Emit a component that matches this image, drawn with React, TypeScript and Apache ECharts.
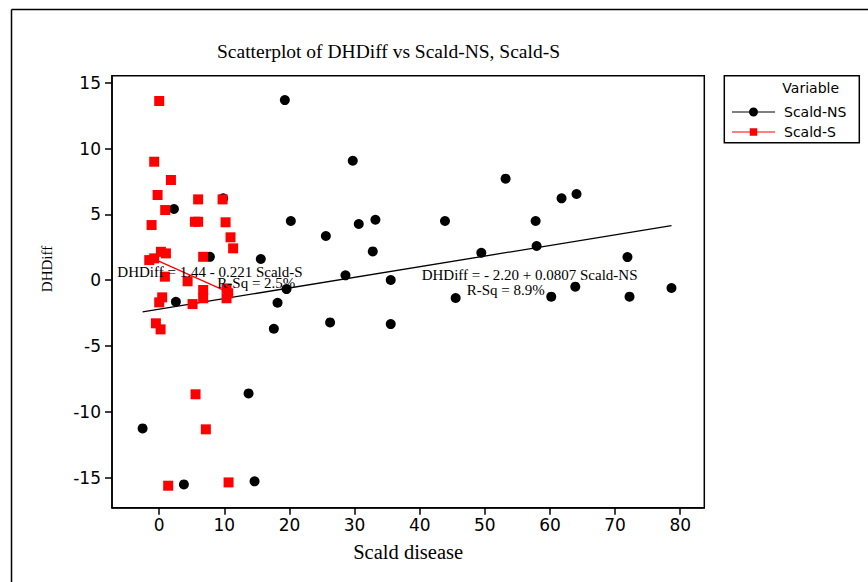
import React, { useEffect, useRef } from 'react';
import * as echarts from 'echarts';

const xTicks = [0, 10, 20, 30, 40, 50, 60, 70, 80];
const yTicks = [-15, -10, -5, 0, 5, 10, 15];

const scaldNS: number[][] = [
  [-2.55, -11.25], [2.26, 5.41], [2.56, -1.63], [7.78, 1.78], [9.82, 6.22],
  [19.29, 13.68], [20.21, 4.5], [15.6, 1.61], [19.55, -0.67], [18.17, -1.71],
  [17.6, -3.68], [13.72, -8.59], [3.79, -15.5], [14.64, -15.27], [29.72, 9.07],
  [25.59, 3.36], [30.64, 4.27], [33.2, 4.59], [32.79, 2.19], [43.88, 4.5],
  [49.46, 2.09], [28.6, 0.37], [35.55, 0.02], [26.24, -3.2], [35.55, -3.33],
  [45.52, -1.35], [53.19, 7.71], [61.78, 6.22], [64.08, 6.55], [57.8, 4.5],
  [57.95, 2.6], [71.9, 1.76], [63.89, -0.49], [60.2, -1.25], [72.22, -1.25],
  [78.66, -0.59],
];

const scaldS: number[][] = [
  [0.0, 13.61], [-0.77, 9.0], [1.8, 7.61], [-0.25, 6.47], [0.92, 5.33],
  [-1.17, 4.19], [5.98, 6.14], [9.73, 6.14], [5.48, 4.44], [5.98, 4.44],
  [10.19, 4.4], [10.95, 3.26], [11.35, 2.42], [6.75, 1.78], [-1.53, 1.53],
  [-0.77, 1.66], [0.26, 2.16], [1.03, 2.04], [0.87, 0.27], [4.36, -0.08],
  [6.75, -0.74], [6.75, -1.37], [10.34, -0.62], [10.59, -0.99], [10.34, -1.37],
  [0.46, -1.3], [0.0, -1.68], [5.12, -1.81], [-0.51, -3.27], [0.21, -3.73],
  [5.58, -8.66], [7.16, -11.32], [1.38, -15.6], [10.65, -15.35],
];

const fitNS = { intercept: -2.2, slope: 0.0807 };
const fitS = { intercept: 1.44, slope: -0.221 };

const titleText = 'Scatterplot of DHDiff vs Scald-NS, Scald-S';
const annotS = ['DHDiff = 1.44 - 0.221 Scald-S', 'R-Sq = 2.5%'];
const annotNS = ['DHDiff = - 2.20 + 0.0807 Scald-NS', 'R-Sq = 8.9%'];

function fitLine(pts: number[][], fit: { intercept: number; slope: number }) {
  const xs = pts.map((p) => p[0]);
  const lo = Math.min(...xs);
  const hi = Math.max(...xs);
  return [
    [lo, fit.intercept + fit.slope * lo],
    [hi, fit.intercept + fit.slope * hi],
  ];
}

const SERIF = 'Liberation Serif';
const SANS = 'DejaVu Sans';

const iconNS =
  'path://M0,4.5L17,4.5L17,5.5L0,5.5Z M26,4.5L43,4.5L43,5.5L26,5.5Z M17,5A4.5,4.5 0 1 1 26,5A4.5,4.5 0 1 1 17,5Z';
const iconS =
  'path://M0,4.5L18,4.5L18,5.5L0,5.5Z M25,4.5L43,4.5L43,5.5L25,5.5Z M17.75,1.25L25.25,1.25L25.25,8.75L17.75,8.75Z M0,0L0.01,0L0.01,0.01Z M0,9.99L0.01,9.99L0.01,10Z';

export default function App() {
  const ref = useRef<HTMLDivElement>(null);

  useEffect(() => {
    document.body.style.margin = '0';
    if (!ref.current) return;
    const chart = echarts.init(ref.current, undefined, { renderer: 'svg' });

    const axisCommon = {
      type: 'value' as const,
      splitLine: { show: false },
      axisLine: { onZero: false, lineStyle: { color: '#000', width: 1.5 } },
      axisTick: { length: 7, lineStyle: { color: '#000', width: 1.5 } },
    };

    chart.setOption({
      animation: false,
      backgroundColor: '#fff',
      title: {
        text: titleText,
        left: 212,
        top: 36.5,
        textStyle: { fontFamily: SERIF, fontSize: 19.5, fontWeight: 'normal', color: '#000' },
      },
      legend: {
        orient: 'vertical',
        left: 732,
        top: 105,
        padding: 0,
        itemWidth: 43,
        itemHeight: 10,
        itemGap: 6,
        selectedMode: false,
        data: [
          { name: 'Scald-NS', icon: iconNS },
          { name: 'Scald-S', icon: iconS },
        ],
        textStyle: { fontFamily: SANS, fontSize: 14, color: '#000', lineHeight: 14, padding: [0, 0, 0, 4] },
      },
      grid: {
        left: 112,
        right: 163.7,
        top: 75.7,
        bottom: 74.3,
        show: true,
        borderColor: '#000',
        borderWidth: 1.5,
        backgroundColor: 'transparent',
      },
      xAxis: {
        ...axisCommon,
        min: -7.25,
        max: 83.7,
        axisTick: { ...axisCommon.axisTick, customValues: xTicks },
        axisLabel: { customValues: xTicks, margin: 9, fontFamily: SANS, fontSize: 17, color: '#000' },
        name: 'Scald disease',
        nameLocation: 'middle',
        nameGap: 34,
        nameTextStyle: { fontFamily: SERIF, fontSize: 20.5, color: '#000' },
      },
      yAxis: {
        ...axisCommon,
        min: -17.27,
        max: 15.53,
        axisTick: { ...axisCommon.axisTick, customValues: yTicks },
        axisLabel: { customValues: yTicks, margin: 11, fontFamily: SANS, fontSize: 17, color: '#000' },
      },
      series: [
        {
          name: 'fit-NS',
          type: 'line',
          data: fitLine(scaldNS, fitNS),
          showSymbol: false,
          symbol: 'none',
          lineStyle: { color: '#000', width: 1.3 },
          z: 1,
          silent: true,
        },
        {
          name: 'fit-S',
          type: 'line',
          data: fitLine(scaldS, fitS),
          showSymbol: false,
          symbol: 'none',
          lineStyle: { color: '#ff0000', width: 1.3 },
          z: 1,
          silent: true,
        },
        {
          name: 'Scald-NS',
          type: 'scatter',
          data: scaldNS,
          symbol: 'circle',
          symbolSize: 10,
          itemStyle: { color: '#000', opacity: 1 },
          z: 2,
        },
        {
          name: 'Scald-S',
          type: 'scatter',
          data: scaldS,
          symbol: 'rect',
          symbolSize: 10,
          itemStyle: { color: '#ff0000', opacity: 1 },
          z: 3,
        },
      ],
      graphic: [
        { type: 'line', shape: { x1: 11.5, y1: 9.5, x2: 868, y2: 9.5 }, style: { stroke: '#000', lineWidth: 1.5 }, z: 10 },
        { type: 'line', shape: { x1: 11.5, y1: 9.5, x2: 11.5, y2: 582 }, style: { stroke: '#000', lineWidth: 1.5 }, z: 10 },
        { type: 'rect', shape: { x: 724.3, y: 75.7, width: 135, height: 67 }, style: { fill: 'none', stroke: '#000', lineWidth: 1.5 }, z: 10 },
        { type: 'text', x: 810.7, y: 88.3, style: { text: 'Variable', font: `14px "${SANS}"`, fill: '#000', textAlign: 'center', textVerticalAlign: 'middle' }, z: 10 },
        { type: 'text', x: 46.7, y: 269, rotation: Math.PI / 2, style: { text: 'DHDiff', font: `15px "${SERIF}"`, fill: '#000', textAlign: 'center', textVerticalAlign: 'middle' }, z: 10 },
        { type: 'text', x: 117.3, y: 271.7, style: { text: annotS[0], font: `15px "${SERIF}"`, fill: '#000', textAlign: 'left', textVerticalAlign: 'middle' }, z: 100 },
        { type: 'text', x: 217.3, y: 283.3, style: { text: annotS[1], font: `15px "${SERIF}"`, fill: '#000', textAlign: 'left', textVerticalAlign: 'middle' }, z: 100 },
        { type: 'text', x: 421.7, y: 275, style: { text: annotNS[0], font: `15px "${SERIF}"`, fill: '#000', textAlign: 'left', textVerticalAlign: 'middle' }, z: 100 },
        { type: 'text', x: 466.7, y: 290, style: { text: annotNS[1], font: `15px "${SERIF}"`, fill: '#000', textAlign: 'left', textVerticalAlign: 'middle' }, z: 100 },
      ],
    });

    return () => chart.dispose();
  }, []);

  return <div ref={ref} style={{ width: 868, height: 582 }} />;
}
